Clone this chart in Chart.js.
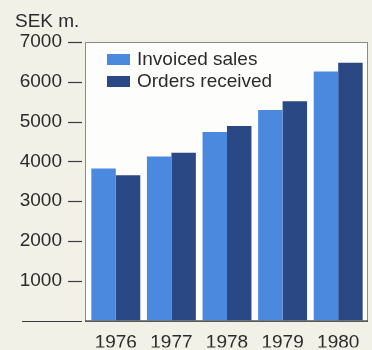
<!DOCTYPE html>
<html>
<head>
<meta charset="utf-8">
<script src="https://cdn.jsdelivr.net/npm/chart.js@4"></script>
<style>
  html, body { margin: 0; padding: 0; background: #f2f1e8; overflow: hidden; }
  #wrap { position: relative; width: 372px; height: 350px; }
  #salesChart { display: block; }
</style>
</head>
<body>
<div id="wrap"><canvas id="salesChart"></canvas></div>
<script>
// SEK millions per year
const years = ["1976", "1977", "1978", "1979", "1980"];
const invoicedSales = [3820, 4120, 4740, 5290, 6260];
const ordersReceived = [3650, 4220, 4890, 5510, 6480];
const yTicks = [0, 1000, 2000, 3000, 4000, 5000, 6000, 7000];

const LIGHT = "#4b89df";
const DARK = "#2a4884";
const INK = "#2b2b2b";
const FONT = "Liberation Sans, Arial, sans-serif";

// white panel behind the bars, dashes beside the y labels, unit caption and legend
const panel = {
  id: "panel",
  beforeDraw(chart) {
    const { ctx, chartArea: a } = chart;
    ctx.save();
    ctx.fillStyle = "#f2f1e8";
    ctx.fillRect(0, 0, chart.width, chart.height);
    ctx.fillStyle = "#fdfdfb";
    ctx.fillRect(a.left - 3, a.top, a.right - a.left + 5, a.bottom - a.top);
    ctx.strokeStyle = "#8a8a86";
    ctx.lineWidth = 1;
    ctx.strokeRect(a.left - 2.5, a.top + 0.5, a.right - a.left + 4, a.bottom - a.top);
    ctx.restore();
  },
  afterDraw(chart) {
    const { ctx, chartArea: a } = chart;
    const y = chart.scales.y;
    ctx.save();
    ctx.strokeStyle = "#3a3a3a";
    ctx.lineWidth = 1.2;
    yTicks.forEach(v => {
      const py = Math.round(y.getPixelForValue(v)) + 0.5;
      ctx.beginPath();
      ctx.moveTo(v === 0 ? 22 : a.left - 20, py);
      ctx.lineTo(a.left - 6, py);
      ctx.stroke();
    });
    // bottom edge of the panel
    ctx.beginPath();
    ctx.moveTo(a.left - 3, a.bottom + 0.5);
    ctx.lineTo(a.right + 2, a.bottom + 0.5);
    ctx.stroke();

    ctx.fillStyle = INK;
    ctx.font = "19px " + FONT;
    ctx.textBaseline = "middle";
    ctx.textAlign = "left";
    ctx.fillText("SEK m.", 15, 22);

    chart.data.datasets.forEach((ds, i) => {
      const cy = a.top + 17 + i * 22;
      ctx.fillStyle = ds.backgroundColor;
      ctx.fillRect(a.left + 19, cy - 5, 23, 11);
      ctx.fillStyle = INK;
      ctx.fillText(ds.label, a.left + 49, cy + 1);
    });
    ctx.restore();
  }
};

new Chart(document.getElementById("salesChart"), {
  type: "bar",
  data: {
    labels: years,
    datasets: [
      { label: "Invoiced sales", data: invoicedSales, backgroundColor: LIGHT },
      { label: "Orders received", data: ordersReceived, backgroundColor: DARK }
    ]
  },
  options: {
    responsive: true,
    maintainAspectRatio: false,
    animation: false,
    events: [],
    layout: { padding: { top: 42, right: 6, left: 0, bottom: 0 } },
    plugins: {
      legend: { display: false },
      title: { display: false },
      tooltip: { enabled: false }
    },
    datasets: {
      bar: { categoryPercentage: 0.88, barPercentage: 1.0 }
    },
    scales: {
      x: {
        grid: { display: false },
        border: { display: false },
        ticks: { color: INK, font: { family: FONT, size: 19 }, padding: 3 },
        afterFit(scale) { scale.height = 27; }
      },
      y: {
        min: 0,
        max: 7000,
        grid: { display: false },
        border: { display: false },
        afterBuildTicks(scale) { scale.ticks = yTicks.map(v => ({ value: v })); },
        ticks: {
          color: INK,
          font: { family: FONT, size: 19 },
          padding: 18,
          callback: v => (v === 0 ? "" : String(v))
        },
        afterFit(scale) { scale.width = 88; }
      }
    }
  },
  plugins: [panel]
});
</script>
</body>
</html>
